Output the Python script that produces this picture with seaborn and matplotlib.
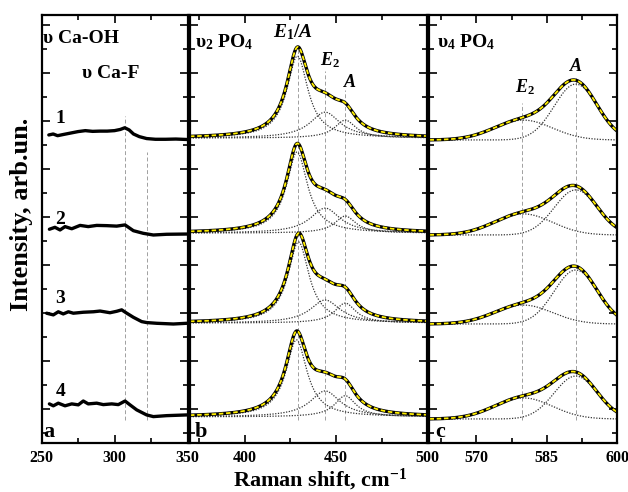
import numpy as np
import matplotlib
matplotlib.use("Agg")
import matplotlib.pyplot as plt
import seaborn as sns
from matplotlib.ticker import FixedLocator

a1_x = [255, 258, 261, 265, 270, 275, 280, 285, 290, 295, 300, 304, 307, 310, 313, 317, 322, 328, 335, 342, 350]
a1_y = [12.42, 12.46, 12.39, 12.44, 12.50, 12.56, 12.60, 12.57, 12.58, 12.58, 12.60, 12.65, 12.72, 12.63,
        12.46, 12.35, 12.27, 12.24, 12.24, 12.25, 12.23]
a2_x = [255.4, 259.2, 262.7, 266.1, 270.7, 276.4, 282.0, 287.8, 294.6, 301.5, 307.2, 312.9, 319.7, 326.6, 335.7, 349.5]
a2_y = [8.49, 8.57, 8.46, 8.60, 8.51, 8.65, 8.60, 8.65, 8.64, 8.62, 8.67, 8.43, 8.32, 8.25, 8.28, 8.29]
a3_x = [253.5, 258.1, 261.5, 264.9, 268.4, 271.8, 278.6, 285.5, 290.1, 296.9, 301.5, 304.9, 308.4, 312.9, 318.6,
        322.0, 328.9, 340.3, 349.5]
a3_y = [4.99, 4.92, 5.05, 4.96, 5.05, 4.99, 5.03, 5.05, 5.08, 5.01, 5.07, 5.13, 4.99, 4.82, 4.64, 4.60, 4.57, 4.54, 4.57]
a4_x = [255.4, 258.1, 261.5, 266.1, 270.7, 275.2, 278.6, 282.0, 287.8, 292.3, 298.1, 302.6, 307.2, 310.6, 315.2,
        322.0, 326.6, 335.7, 349.5]
a4_y = [1.21, 1.13, 1.24, 1.13, 1.21, 1.17, 1.33, 1.21, 1.24, 1.18, 1.21, 1.18, 1.33, 1.17, 0.96, 0.75, 0.68, 0.72, 0.75]
a_lines = [307.5, 322.5]
a_line_top = [13.2, 11.7]

# ---- panel b: v2 PO4 fit components (Lorentzian) ----
b_base = [12.29, 8.33, 4.58, 0.67]
b_e1a_pos = [428.8, 428.6, 429.4, 428.3]
b_e1a_amp = [3.42, 3.38, 3.38, 3.21]
b_e2_amp = [1.08, 1.04, 0.96, 1.08]
b_a_amp = [0.75, 0.71, 0.83, 0.88]
b_e2_pos, b_a_pos = 444.0, 455.0
b_e1a_hw, b_e2_hw, b_a_hw = 7.0, 10.0, 7.0
b_lines = [429.2, 444.0, 455.0]
b_line_top = [16.0, 15.1, 14.3]

# ---- panel c: v4 PO4 fit components (Gaussian) ----
c_base = [12.21, 8.25, 4.54, 0.58]
c_e2_amp = [0.83, 0.88, 0.79, 0.88]
c_a_amp = [2.33, 1.88, 2.25, 1.79]
c_e2_pos, c_a_pos = 580.0, 591.2
c_e2_sig, c_a_sig = 6.2, 4.6
c_lines = [579.7, 591.2]
c_line_top = [13.75, 14.8]

spec_labels = ["1", "2", "3", "4"]
spec_label_y = [13.1, 8.9, 5.6, 1.71]


def lorentz(x, c, amp, hw):
    return amp / (1 + ((x - c) / hw) ** 2)


def gauss(x, c, amp, sig):
    return amp * np.exp(-(x - c) ** 2 / (2 * sig ** 2))


sns.set_theme(style="ticks")
plt.rcParams["font.family"] = ["Liberation Serif", "DejaVu Serif"]
plt.rcParams["font.weight"] = "bold"
plt.rcParams["text.color"] = "black"
plt.rcParams["xtick.color"] = "black"
plt.rcParams["ytick.color"] = "black"
plt.rcParams["mathtext.fontset"] = "custom"
plt.rcParams["mathtext.rm"] = "Liberation Serif:bold"
plt.rcParams["mathtext.it"] = "Liberation Serif:italic:bold"
plt.rcParams["mathtext.bf"] = "Liberation Serif:bold"

fig = plt.figure(figsize=(6.28, 4.92), dpi=100)
bottom, height = 0.0996, 0.8699
ax_a = fig.add_axes([0.0661, bottom, 0.2325, height])
ax_b = fig.add_axes([0.3025, bottom, 0.3782, height])
ax_c = fig.add_axes([0.6839, bottom, 0.2986, height])

meas_kw = dict(color="black", lw=2.4, estimator=None, sort=False, legend=False)
fit_kw = dict(color="#ffee00", lw=1.3, linestyle=(0, (2.5, 1.5)), estimator=None, sort=False, legend=False)
comp_kw = dict(color="#333333", lw=0.9, linestyle=(0, (1, 1.2)), estimator=None, sort=False, legend=False)
ref_kw = dict(colors="#a0a0a0", linestyles=(0, (4, 2.5)), linewidth=0.7)

# panel a
ax_a.vlines(a_lines, 0.54, a_line_top, **ref_kw)
for xs, ys in [(a1_x, a1_y), (a2_x, a2_y), (a3_x, a3_y), (a4_x, a4_y)]:
    sns.lineplot(x=xs, y=ys, ax=ax_a, **meas_kw)
for lab, ly in zip(spec_labels, spec_label_y):
    ax_a.text(263, ly, lab, fontsize=14, ha="center", va="center")

# panel b
xb = np.linspace(370, 500, 500)
ax_b.vlines(b_lines, 0.54, b_line_top, **ref_kw)
for i in range(4):
    p1 = lorentz(xb, b_e1a_pos[i], b_e1a_amp[i], b_e1a_hw)
    p2 = lorentz(xb, b_e2_pos, b_e2_amp[i], b_e2_hw)
    p3 = lorentz(xb, b_a_pos, b_a_amp[i], b_a_hw)
    for p in (p1, p2, p3):
        sns.lineplot(x=xb, y=b_base[i] + p, ax=ax_b, **comp_kw)
    total = b_base[i] + p1 + p2 + p3
    sns.lineplot(x=xb, y=total, ax=ax_b, **meas_kw)
    sns.lineplot(x=xb, y=total, ax=ax_b, **fit_kw)

# panel c
xc = np.linspace(560, 600, 300)
ax_c.vlines(c_lines, 0.54, c_line_top, **ref_kw)
for i in range(4):
    p1 = gauss(xc, c_e2_pos, c_e2_amp[i], c_e2_sig)
    p2 = gauss(xc, c_a_pos, c_a_amp[i], c_a_sig)
    for p in (p1, p2):
        sns.lineplot(x=xc, y=c_base[i] + p, ax=ax_c, **comp_kw)
    total = c_base[i] + p1 + p2
    sns.lineplot(x=xc, y=total, ax=ax_c, **meas_kw)
    sns.lineplot(x=xc, y=total, ax=ax_c, **fit_kw)

limits = [(250, 350), (370, 500), (560, 600)]
majors = [[250, 300, 350], [400, 450, 500], [570, 585, 600]]
minors = [[275, 325], [375, 425, 475], [562.5, 577.5, 592.5]]
for ax, lim, mj, mn in zip([ax_a, ax_b, ax_c], limits, majors, minors):
    ax.set_xlim(*lim)
    ax.set_ylim(-0.42, 17.42)
    ax.xaxis.set_major_locator(FixedLocator(mj))
    ax.xaxis.set_minor_locator(FixedLocator(mn))
    ax.yaxis.set_major_locator(FixedLocator(list(range(1, 18, 2))))
    ax.yaxis.set_minor_locator(FixedLocator(list(range(0, 17, 2))))
    ax.tick_params(which="both", direction="in", top=True, right=True, left=True, bottom=True,
                   labelleft=False, width=1.2, color="black", labelcolor="black")
    ax.tick_params(which="major", length=5.5, labelsize=11.5, pad=5)
    ax.tick_params(which="minor", length=3.5)
    for sp in ax.spines.values():
        sp.set_visible(True)
        sp.set_linewidth(1.6)
        sp.set_color("black")
    ax.set_xlabel("")
    ax.set_ylabel("")
    ax.grid(False)
    for t in ax.get_xticklabels():
        t.set_fontweight("bold")

# annotations
ax_a.text(0.012, 0.935, "υ Ca-OH", transform=ax_a.transAxes, fontsize=14, va="baseline", ha="left")
ax_a.text(0.277, 0.853, "υ Ca-F", transform=ax_a.transAxes, fontsize=14, va="baseline", ha="left")
ax_b.text(0.021, 0.925, "υ$_2$ PO$_4$", transform=ax_b.transAxes, fontsize=14, va="baseline", ha="left")
ax_c.text(0.04, 0.925, "υ$_4$ PO$_4$", transform=ax_c.transAxes, fontsize=14, va="baseline", ha="left")
ax_b.text(426.5, 16.5, r"$E_{\mathit{1}}/A$", fontsize=14, ha="center", va="baseline")
ax_b.text(446.5, 15.33, r"$E_{\mathit{2}}$", fontsize=13, ha="center", va="baseline")
ax_b.text(457.7, 14.42, r"$A$", fontsize=13, ha="center", va="baseline")
ax_c.text(580.3, 14.2, r"$E_{\mathit{2}}$", fontsize=13, ha="center", va="baseline")
ax_c.text(591.2, 15.08, r"$A$", fontsize=13, ha="center", va="baseline")
for ax, letter, xl in [(ax_a, "a", 0.012), (ax_b, "b", 0.02), (ax_c, "c", 0.03)]:
    ax.text(xl, 0.014, letter, transform=ax.transAxes, fontsize=16, ha="left", va="baseline")

fig.text(0.0345, 0.565, "Intensity, arb.un.", rotation=90, fontsize=19, ha="center", va="center")
fig.text(0.51, 0.011, "Raman shift, cm$^{-1}$", fontsize=16, ha="center", va="baseline")

fig.savefig("out.png", dpi=100)
